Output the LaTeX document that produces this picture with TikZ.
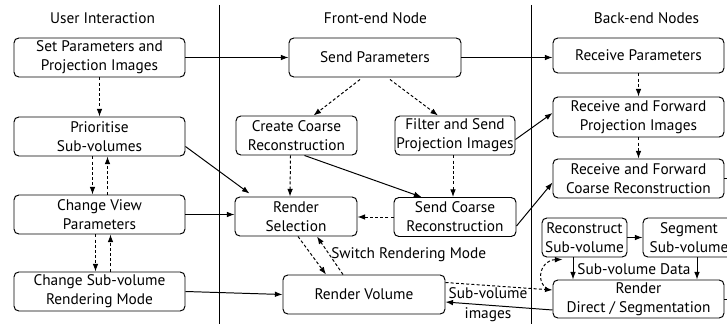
\documentclass[tikz,border=0pt]{standalone}
\usepackage{fontspec}
\setmainfont{PT Sans}
\usetikzlibrary{arrows.meta,calc}

\tikzset{
  box/.style={draw,rounded corners=1.2mm,align=center,inner sep=0pt,line width=0.7pt,
    font=\fontsize{10.9}{13.5}\selectfont},
  sz/.style 2 args={minimum width=#1*0.25mm,minimum height=#2*0.25mm},
  head/.style={font=\fontsize{10.9}{13}\selectfont},
  lbl/.style={font=\fontsize{10.9}{14}\selectfont,inner sep=0pt},
  flow/.style={-{Latex[length=1.9mm,width=1.4mm]},line width=0.7pt},
  ctrl/.style={flow,dash pattern=on 0.75mm off 0.55mm},
}

\begin{document}
\begin{tikzpicture}[x=0.25mm,y=-0.25mm]

\useasboundingbox (0,0) rectangle (727,324);
\clip (0,0) rectangle (727,324);
\fill[white] (0,0) rectangle (727,324);

% columns
\draw[line width=0.7pt] (219,5) -- (219,324);
\draw[line width=0.7pt] (531,5) -- (531,324);

\node[head] (tuser) at (102.5,18) {User Interaction};
\node[head] (tfront) at (375.5,18) {Front-end Node};
\node[head] (tback) at (646.5,18) {Back-end Nodes};

% user interaction
\node[box,sz={171}{39}] (setp) at (99.5,57.5) {Set Parameters and\\Projection Images};
\node[box,sz={171}{39}] (prio) at (99.5,136.5) {Prioritise\\Sub-volumes};
\node[box,sz={171}{39}] (view) at (99.5,214.5) {Change View\\Parameters};
\node[box,sz={171}{39}] (mode) at (99.5,291.5) {Change Sub-volume\\Rendering Mode};

% front-end
\node[box,sz={172}{39}] (sendp) at (375,57.5) {Send Parameters};
\node[box,sz={121}{39}] (create) at (296.5,135.5) {Create Coarse\\Reconstruction};
\node[box,sz={120}{39}] (filter) at (455,135.5) {Filter and Send\\Projection Images};
\node[box,sz={122}{39}] (rsel) at (296,216.5) {Render\\Selection};
\node[box,sz={122}{39}] (sendc) at (455,217) {Send Coarse\\Reconstruction};
\node[box,sz={162}{39}] (rvol) at (364,294.5) {Render Volume};

% back-end
\node[box,sz={171}{35}] (recvp) at (638.5,55.5) {Receive Parameters};
\node[box,sz={171}{40}] (fwdproj) at (638.5,117) {Receive and Forward\\Projection Images};
\node[box,sz={171}{39}] (fwdcoarse) at (638.5,178.5) {Receive and Forward\\Coarse Reconstruction};
\node[box,sz={85}{39}] (recon) at (584.5,237.5) {Reconstruct\\Sub-volume};
\node[box,sz={92}{39}] (segm) at (689,237.5) {Segment\\Sub-volume};
\node[box,sz={171}{38}] (rdir) at (638.5,299) {Render\\Direct / Segmentation};

\coordinate (outa) at (740,178.5);
\coordinate (outb) at (740,299);

% user side
\draw[flow] (setp.east) -- (sendp.west);
\draw[ctrl] (setp) -- (prio);
\draw[ctrl] ($(prio.south)+(-7,0)$) -- ($(view.north)+(-7,0)$);
\draw[ctrl] ($(view.north)+(8,0)$) -- ($(prio.south)+(8,0)$);
\draw[ctrl] ($(view.south)+(-4,0)$) -- ($(mode.north)+(-4,0)$);
\draw[ctrl] ($(mode.north)+(11,0)$) -- ($(view.south)+(11,0)$);
\draw[flow] ($(prio.east)+(0,10)$) -- ($(rsel.north west)+(15,-3)$);
\draw[flow] (view.east) -- (view.east -| rsel.west);
\draw[flow] (mode.east) -- (rvol.west);

% front-end
\draw[flow] (sendp.east) -- (sendp.east -| recvp.west);
\draw[ctrl] ($(sendp.south)+(-15,2)$) -- ($(create.north)+(17,0)$);
\draw[ctrl] ($(sendp.south)+(15,2)$) -- ($(filter.north)+(-17,0)$);
\draw[ctrl] ($(create.south)+(-6,0)$) -- ($(rsel.north)+(-6,0)$);
\draw[flow] ($(create.south)+(8,0)$) -- ($(sendc.north west)+(28,0)$);
\draw[ctrl] ($(filter.south)+(-2,0)$) -- ($(sendc.north)+(-2,0)$);
\draw[flow] ($(filter.east)+(0,4)$) -- ($(fwdproj.west)+(0,-4)$);
\draw[ctrl] (sendc.west) -- (sendc.west -| rsel.east);
\draw[flow] ($(sendc.east)+(0,9)$) -- ($(fwdcoarse.west)+(0,4)$);
\draw[ctrl] ($(rsel.south)+(2,0)$) -- ($(rvol.north)+(-38,0)$);
\draw[ctrl] ($(rvol.north)+(-21,0)$) -- ($(rsel.south)+(21,0)$);
\node[lbl,anchor=west] (switch) at (331,255) {Switch Rendering Mode};

% back-end
\draw[ctrl] (recvp) -- (fwdproj);
\draw[ctrl] (fwdproj) -- (fwdcoarse);
\draw[flow] (recon) -- (segm);
\draw[flow] ($(recon.south)+(-11.5,0)$) -- ($(rdir.north)+(-65.5,0)$);
\draw[flow] ($(segm.south)+(8,0)$) -- ($(rdir.north)+(58.5,0)$);
\node[lbl] (svdata) at (634,269) {Sub-volume Data};
\draw[ctrl] ($(rvol.north east)+(0,8)$) -- ($(rdir.west)+(0,-9)$);
\draw[ctrl] ($(rdir.west)+(-5,-10)$) .. controls (535,282) and (540,260) .. ($(recon.south west)+(21,2)$);
\draw[flow] ($(rdir.west)+(0,11)$) -- ($(rvol.east)+(0,7.5)$);
\node[lbl,align=center] (svimg) at (488,305) {Sub-volume\\images};
\draw[line width=0.7pt] (fwdcoarse.east) -- (outa);
\draw[line width=0.7pt] (rdir.east) -- (outb);

\end{tikzpicture}
\end{document}
